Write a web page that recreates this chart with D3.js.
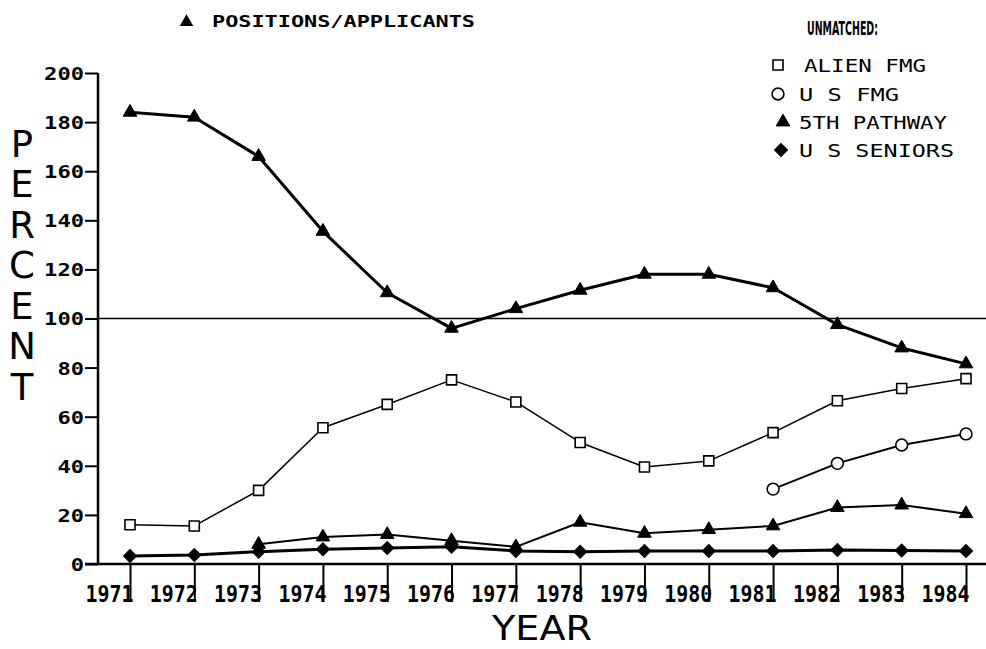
<!DOCTYPE html>
<html>
<head>
<meta charset="utf-8">
<script src="https://cdn.jsdelivr.net/npm/d3@7"></script>
<style>
  body { margin: 0; background: #fff; }
  svg { display: block; }
  .mono { font-family: "DejaVu Sans Mono", monospace; }
</style>
</head>
<body>
<div id="chart"></div>
<script>
var years = [1971, 1972, 1973, 1974, 1975, 1976, 1977, 1978, 1979, 1980, 1981, 1982, 1983, 1984];
var posApplicants = [184, 182, 166, 135.5, 110.5, 96, 104, 111.5, 118, 118, 112.5, 97.5, 88, 81.5];
var alienFmg = [16, 15.5, 30, 55.5, 65, 75, 66, 49.5, 39.5, 42, 53.5, 66.5, 71.5, 75.5];
var usFmg = [null, null, null, null, null, null, null, null, null, null, 30.5, 41, 48.5, 53];
var pathway5 = [null, null, 8, 11, 12, 9.5, 7, 17, 12.5, 14, 15.5, 23, 24, 20.5];
var usSeniors = [3.3, 3.7, 5, 6, 6.5, 7, 5.3, 5, 5.3, 5.3, 5.3, 5.7, 5.5, 5.3];
var yTicks = [0, 20, 40, 60, 80, 100, 120, 140, 160, 180, 200];
var legendItems = ['ALIEN FMG', 'U S FMG', '5TH PATHWAY', 'U S SENIORS'];

var width = 986, height = 649;

var svg = d3.select('#chart').append('svg')
    .attr('width', width)
    .attr('height', height)
    .style('background', '#fff');

var x = d3.scaleLinear().domain([1971, 1984]).range([130, 966]);
var y = d3.scaleLinear().domain([0, 200]).range([564, 73]);

// symbols
var tri = d3.symbol(d3.symbolTriangle, 80);
var sq = d3.symbol(d3.symbolSquare, 100);
var dia = d3.symbol(d3.symbolSquare, 85);
var circ = d3.symbol(d3.symbolCircle, 110);

// y axis
var yAxis = svg.append('g')
    .attr('transform', 'translate(98,0)')
    .call(d3.axisLeft(y).tickValues(yTicks).tickSize(13).tickPadding(1).tickSizeOuter(0));
yAxis.select('.domain').remove();
yAxis.selectAll('line').attr('stroke', '#000').attr('stroke-width', 2);
yAxis.selectAll('text')
    .attr('class', 'mono')
    .style('font-size', '18px')
    .style('font-weight', 'bold')
    .attr('fill', '#000')
    .attr('dy', '0.36em')
    .attr('textLength', function(d) { return String(d).length * 13.3; })
    .attr('lengthAdjust', 'spacingAndGlyphs');

svg.append('line')
    .attr('x1', 98).attr('x2', 98)
    .attr('y1', y(200)).attr('y2', y(0) + 1)
    .attr('stroke', '#000').attr('stroke-width', 2.5);

// x axis
var xAxis = svg.append('g')
    .attr('transform', 'translate(0,' + y(0) + ')')
    .call(d3.axisBottom(x).tickValues(years).tickFormat(d3.format('d')).tickSize(38).tickSizeOuter(0));
xAxis.select('.domain').remove();
xAxis.selectAll('line').attr('stroke', '#000').attr('stroke-width', 2);
xAxis.selectAll('text')
    .attr('class', 'mono')
    .style('font-size', '23px')
    .style('font-weight', 'bold')
    .attr('fill', '#000')
    .attr('text-anchor', 'end')
    .attr('x', 3)
    .attr('y', 38)
    .attr('dy', 0)
    .attr('textLength', 48)
    .attr('lengthAdjust', 'spacingAndGlyphs');

svg.append('line')
    .attr('x1', 85).attr('x2', width)
    .attr('y1', y(0)).attr('y2', y(0))
    .attr('stroke', '#000').attr('stroke-width', 2.5);

// 100 percent line
svg.append('line')
    .attr('x1', 98).attr('x2', width)
    .attr('y1', y(100)).attr('y2', y(100))
    .attr('stroke', '#000').attr('stroke-width', 1.6);

// series
function drawSeries(values, lineWidth, symbol, filled, rotate) {
    var pts = years.map(function(yr, i) { return { yr: yr, v: values[i] }; })
        .filter(function(d) { return d.v != null; });
    var line = d3.line()
        .x(function(d) { return x(d.yr); })
        .y(function(d) { return y(d.v); });
    svg.append('path')
        .datum(pts)
        .attr('d', line)
        .attr('fill', 'none')
        .attr('stroke', '#000')
        .attr('stroke-width', lineWidth)
        .attr('stroke-linejoin', 'round');
    svg.append('g').selectAll('path')
        .data(pts)
        .enter()
        .append('path')
        .attr('d', symbol)
        .attr('transform', function(d) {
            return 'translate(' + x(d.yr) + ',' + y(d.v) + ')' + (rotate ? ' rotate(45)' : '');
        })
        .attr('fill', filled ? '#000' : '#fff')
        .attr('stroke', '#000')
        .attr('stroke-width', filled ? 1 : 1.6);
}

drawSeries(usSeniors, 3, dia, true, true);
drawSeries(pathway5, 2, tri, true, false);
drawSeries(alienFmg, 1.5, sq, false, false);
drawSeries(usFmg, 2, circ, false, false);
drawSeries(posApplicants, 3, tri, true, false);

// axis titles
var letters = 'PERCENT'.split('');
svg.append('g').selectAll('text')
    .data(letters)
    .enter()
    .append('text')
    .attr('x', 22)
    .attr('y', function(d, i) { return 143 + i * 40.5 + 13.5; })
    .attr('text-anchor', 'middle')
    .style('font-family', '"DejaVu Sans", sans-serif')
    .style('font-size', '37px')
    .attr('fill', '#000')
    .text(function(d) { return d; });

svg.append('text')
    .attr('x', 492)
    .attr('y', 640)
    .style('font-family', '"DejaVu Sans", sans-serif')
    .style('font-size', '33px')
    .attr('textLength', 100)
    .attr('lengthAdjust', 'spacingAndGlyphs')
    .attr('fill', '#000')
    .text('YEAR');

// top legend
svg.append('path')
    .attr('d', tri)
    .attr('transform', 'translate(186.5,22)')
    .attr('fill', '#000');
svg.append('text')
    .attr('class', 'mono')
    .attr('x', 212)
    .attr('y', 27)
    .style('font-size', '16px')
    .style('font-weight', 'bold')
    .attr('textLength', 263)
    .attr('lengthAdjust', 'spacingAndGlyphs')
    .attr('fill', '#000')
    .text('POSITIONS/APPLICANTS');

// right legend
svg.append('text')
    .attr('x', 807)
    .attr('y', 35)
    .style('font-family', '"DejaVu Sans", sans-serif')
    .style('font-size', '19px')
    .style('font-weight', 'bold')
    .attr('textLength', 71)
    .attr('lengthAdjust', 'spacingAndGlyphs')
    .attr('fill', '#000')
    .text('UNMATCHED:');

var legendSyms = [
    { sym: sq, fill: false, rot: false, cx: 778 },
    { sym: circ, fill: false, rot: false, cx: 778 },
    { sym: tri, fill: true, rot: false, cx: 783 },
    { sym: dia, fill: true, rot: true, cx: 781 }
];
var legendY = [65, 94, 122, 150];
var legendW = [122, 100, 148, 155];

var leg = svg.append('g').selectAll('g')
    .data(legendItems)
    .enter()
    .append('g');
leg.append('path')
    .attr('d', function(d, i) { return legendSyms[i].sym(); })
    .attr('transform', function(d, i) {
        return 'translate(' + legendSyms[i].cx + ',' + legendY[i] + ')' + (legendSyms[i].rot ? ' rotate(45)' : '');
    })
    .attr('fill', function(d, i) { return legendSyms[i].fill ? '#000' : '#fff'; })
    .attr('stroke', '#000')
    .attr('stroke-width', function(d, i) { return legendSyms[i].fill ? 1 : 1.6; });
leg.append('text')
    .attr('class', 'mono')
    .attr('x', function(d, i) { return i === 0 ? 804 : 799; })
    .attr('y', function(d, i) { return legendY[i] + 6.5; })
    .style('font-size', '17px')
    .attr('textLength', function(d, i) { return legendW[i]; })
    .attr('lengthAdjust', 'spacingAndGlyphs')
    .attr('fill', '#000')
    .text(function(d) { return d; });
</script>
</body>
</html>
